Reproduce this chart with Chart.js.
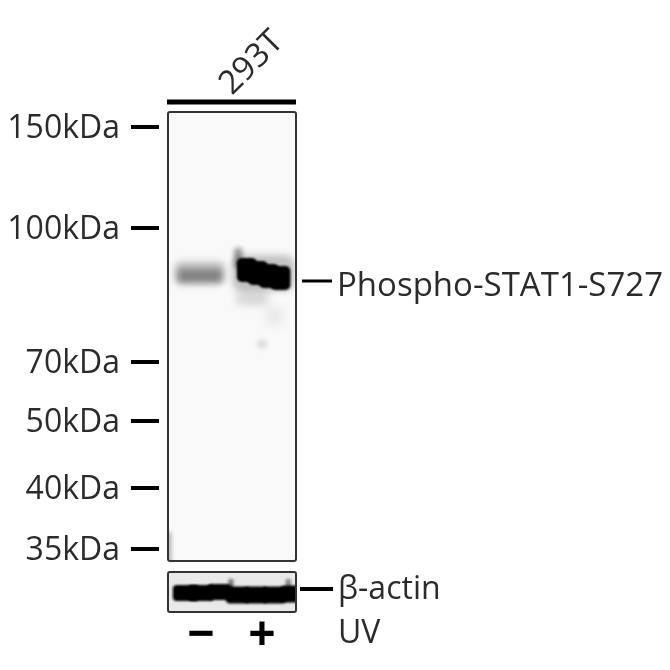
<!DOCTYPE html>
<html>
<head>
<meta charset="utf-8">
<title>Phospho-STAT1-S727 western blot</title>
<script src="https://cdn.jsdelivr.net/npm/chart.js@4"></script>
<style>
  html, body { margin: 0; padding: 0; background: #fff; }
  #wrap { position: relative; width: 670px; height: 670px; overflow: hidden; }
  canvas { position: absolute; left: 0; top: 0; }
</style>
</head>
<body>
<div id="wrap">
  <canvas id="blot" width="670" height="670"></canvas>
  <canvas id="actin" width="670" height="670"></canvas>
</div>
<script>
// migration = distance down the panel, lane 1 is "-", lane 2 is "+"
const markerLabels = ["150kDa", "100kDa", "70kDa", "50kDa", "40kDa", "35kDa"];
const markerMigration = [15, 116, 250, 309, 376, 437];
const cellLine = "293T";
const targetLabel = "Phospho-STAT1-S727";
const targetMigration = 169;
const loadingLabel = "β-actin";
const loadingMigration = 17;
const treatment = "UV";
const laneLabels = ["−", "+"];
const laneValues = [1, 2];

const blotLanes = [0.98, 0.98, 2.02, 1.61, 1.75, 1.93, 2.11, 2.30, 1.84, 2.21, 2.0, 0.47];
const blotMigration = [161, 164, 161, 146, 158, 161, 164, 166, 186, 204, 232, 436];
const blotDensity = [0.25, 0.3, 0.22, 0.4, 1, 1, 1, 1, 0.14, 0.06, 0.12, 0.3];

const actinLanes = [0.75, 1.0, 1.3, 1.6, 1.9, 2.2, 2.5, 1.49, 2.43];
const actinMigration = [21, 21, 20, 23, 23, 23, 22, 13, 13];
const actinDensity = [1, 1, 1, 1, 1, 1, 1, 0.5, 0.45];

// sprite size per band part, same order as the arrays above
const blotShapes = [[50,22,3.5],[44,13,3],[62,36,3],[8,20,2.5],[20,24,1.2],[20,24,1.2],[20,24,1.2],[20,24,1.2],[32,14,4],[18,20,5],[10,8,2.5],[5,32,2]];
const actinShapes = [[26,16,1.2],[26,16,1.2],[24,16,1.2],[24,17,1.2],[24,17,1.2],[24,17,1.2],[24,17,1.2],[5,12,1.5],[5,12,1.5]];

const FONT = "'Open Sans', 'Noto Sans', sans-serif";
const INK = "#2b2b2b";

function sprite(shape, density) {
  const [w, h, blur] = shape;
  const pad = Math.ceil(blur * 3);
  const c = document.createElement("canvas");
  c.width = w + pad * 2;
  c.height = h + pad * 2;
  const g = c.getContext("2d");
  g.filter = `blur(${blur}px)`;
  g.fillStyle = `rgba(0,0,0,${density})`;
  g.beginPath();
  g.roundRect(pad, pad, w, h, Math.min(w, h) / 4);
  g.fill();
  return c;
}

function points(xs, ys) {
  return xs.map((x, i) => ({ x: x, y: ys[i] }));
}

function frame(chart, fill) {
  const a = chart.chartArea;
  const ctx = chart.ctx;
  ctx.save();
  ctx.beginPath();
  ctx.roundRect(a.left, a.top, a.right - a.left, a.bottom - a.top, 2);
  ctx.fillStyle = fill;
  ctx.fill();
  ctx.restore();
}

function outline(chart) {
  const a = chart.chartArea;
  const ctx = chart.ctx;
  ctx.save();
  ctx.beginPath();
  ctx.roundRect(a.left, a.top, a.right - a.left, a.bottom - a.top, 2);
  ctx.strokeStyle = "#333";
  ctx.lineWidth = 2;
  ctx.stroke();
  ctx.restore();
}

function dash(ctx, x1, x2, y, width) {
  ctx.strokeStyle = "#000";
  ctx.lineWidth = width;
  ctx.beginPath();
  ctx.moveTo(x1, y);
  ctx.lineTo(x2, y);
  ctx.stroke();
}

const blotDecor = {
  id: "blotDecor",
  beforeDatasetsDraw(chart) { frame(chart, "#f9f9f9"); },
  afterDatasetsDraw(chart) {
    outline(chart);
    const ctx = chart.ctx;
    const y = chart.scales.y;
    ctx.save();
    markerMigration.forEach(m => dash(ctx, 131, 159, y.getPixelForValue(m), 4));
    dash(ctx, 167, 296, 102, 5);
    const ty = y.getPixelForValue(targetMigration);
    dash(ctx, 302, 332, ty, 3);
    ctx.fillStyle = INK;
    ctx.font = "33px " + FONT;
    ctx.textBaseline = "middle";
    ctx.textAlign = "left";
    ctx.fillText(targetLabel, 337, ty + 6);
    ctx.translate(232, 96);
    ctx.rotate(-Math.PI / 4);
    ctx.textBaseline = "alphabetic";
    ctx.fillText(cellLine, 0, 0);
    ctx.restore();
  }
};

const actinDecor = {
  id: "actinDecor",
  beforeDatasetsDraw(chart) { frame(chart, "#e9e9e9"); },
  afterDatasetsDraw(chart) {
    outline(chart);
    const ctx = chart.ctx;
    const ty = chart.scales.y.getPixelForValue(loadingMigration);
    ctx.save();
    dash(ctx, 300, 333, ty, 4);
    ctx.fillStyle = INK;
    ctx.font = "32px " + FONT;
    ctx.textBaseline = "middle";
    ctx.textAlign = "left";
    ctx.fillText(loadingLabel, 338, ty + 1);
    ctx.fillText(treatment, 338, 634);
    ctx.restore();
  }
};

const laneScale = { min: 0.459, max: 2.557 };

new Chart(document.getElementById("blot"), {
  type: "scatter",
  data: {
    datasets: [{
      label: targetLabel,
      data: points(blotLanes, blotMigration),
      pointRadius: 1,
      pointStyle: ctx => sprite(blotShapes[ctx.dataIndex], blotDensity[ctx.dataIndex])
    }]
  },
  options: {
    responsive: false,
    animation: false,
    devicePixelRatio: 1,
    layout: { padding: { top: 112, right: 374, bottom: 109, left: 0 } },
    plugins: { legend: { display: false }, tooltip: { enabled: false } },
    scales: {
      x: { type: "linear", min: laneScale.min, max: laneScale.max, display: false },
      y: {
        type: "linear",
        reverse: true,
        min: 0,
        max: 449,
        afterFit: s => { s.width = 168; },
        afterBuildTicks: s => { s.ticks = markerMigration.map(v => ({ value: v })); },
        border: { display: false },
        grid: { display: false, drawTicks: false },
        ticks: {
          autoSkip: false,
          padding: 48,
          labelOffset: 2,
          color: INK,
          font: { family: FONT, size: 32 },
          callback: v => markerLabels[markerMigration.indexOf(v)]
        }
      }
    }
  },
  plugins: [blotDecor]
});

new Chart(document.getElementById("actin"), {
  type: "scatter",
  data: {
    datasets: [{
      label: loadingLabel,
      data: points(actinLanes, actinMigration),
      pointRadius: 1,
      pointStyle: ctx => sprite(actinShapes[ctx.dataIndex], actinDensity[ctx.dataIndex])
    }]
  },
  options: {
    responsive: false,
    animation: false,
    devicePixelRatio: 1,
    layout: { padding: { top: 572, right: 374, bottom: 0, left: 168 } },
    plugins: { legend: { display: false }, tooltip: { enabled: false } },
    scales: {
      y: { type: "linear", reverse: true, min: 0, max: 40, display: false },
      x: {
        type: "linear",
        min: laneScale.min,
        max: laneScale.max,
        afterFit: s => { s.height = 58; },
        afterBuildTicks: s => { s.ticks = laneValues.map(v => ({ value: v })); },
        border: { display: false },
        grid: { display: false, drawTicks: false },
        ticks: {
          autoSkip: false,
          maxRotation: 0,
          padding: -4,
          color: "#000",
          font: { family: FONT, size: 48, weight: "bold" },
          callback: v => laneLabels[laneValues.indexOf(v)]
        }
      }
    }
  },
  plugins: [actinDecor]
});
</script>
</body>
</html>
